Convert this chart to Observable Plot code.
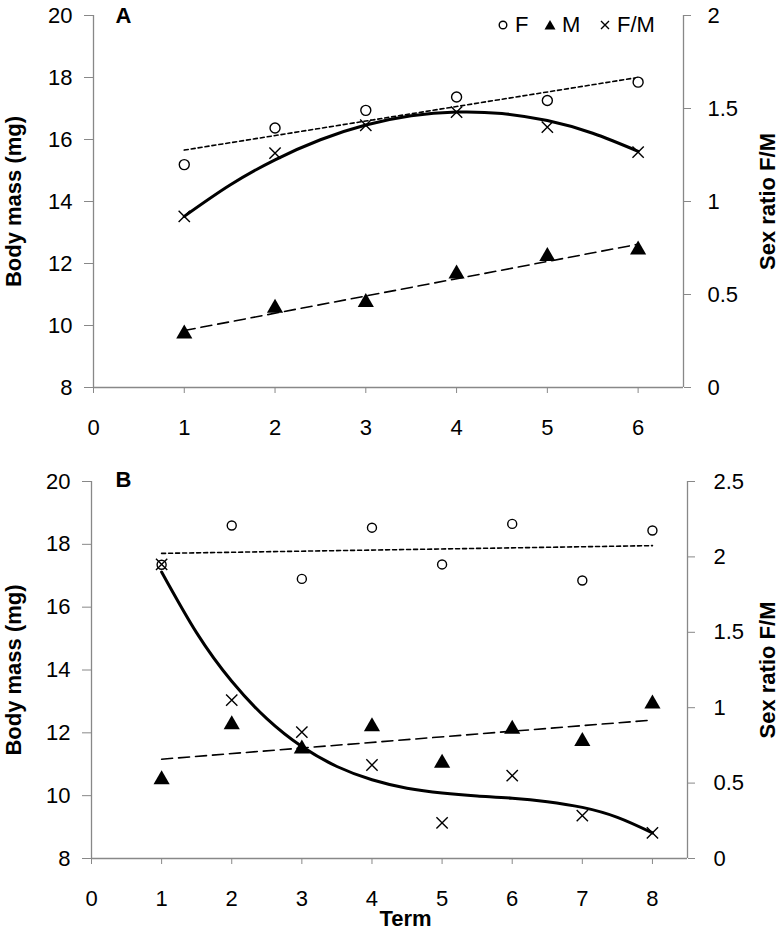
<!DOCTYPE html>
<html>
<head>
<meta charset="utf-8">
<script src="https://cdn.jsdelivr.net/npm/d3@7"></script>
<script src="https://cdn.jsdelivr.net/npm/@observablehq/plot@0.6"></script>
<style>
  body { margin: 0; background: #fff; font-family: "Liberation Sans", Arial, sans-serif; }
  #wrap { position: relative; width: 782px; height: 939px; }
  #wrap svg { display: block; }
  .lg { position: absolute; font-size: 22px; line-height: 22px; color: #000; white-space: nowrap; }
  .lgicon { position: absolute; }
</style>
</head>
<body>
<div id="wrap"></div>
<script>
// ---------- Data ----------
// Panel A
const termA = [1, 2, 3, 4, 5, 6];
const femaleA = [15.19, 16.37, 16.94, 17.37, 17.26, 17.85];
const maleA = [9.73, 10.56, 10.75, 11.67, 12.23, 12.44];
const ratioA = [0.92, 1.26, 1.41, 1.48, 1.40, 1.265];
const ratioTrendTermA = [1, 1.5, 2, 2.5, 3, 3.5, 4, 4.5, 5, 5.5, 6];
const ratioTrendA = [0.92, 1.087, 1.224, 1.332, 1.411, 1.461, 1.481, 1.473, 1.435, 1.367, 1.27];

// Panel B
const termB = [1, 2, 3, 4, 5, 6, 7, 8];
const femaleB = [17.35, 18.60, 16.90, 18.53, 17.36, 18.65, 16.85, 18.44];
const maleB = [10.51, 12.26, 11.49, 12.20, 11.04, 12.12, 11.73, 12.92];
const ratioB = [1.95, 1.05, 0.838, 0.62, 0.236, 0.549, 0.284, 0.17];
const ratioTrendTermB = [1, 1.5, 2, 2.5, 3, 3.5, 4, 4.5, 5, 5.5, 6, 6.5, 7, 7.5, 8];
const ratioTrendB = [1.90, 1.496, 1.175, 0.927, 0.742, 0.610, 0.522, 0.466, 0.434, 0.415, 0.40, 0.377, 0.339, 0.273, 0.17];

// Axis ticks
const massTicks = [8, 10, 12, 14, 16, 18, 20];
const ratioTicksA = [0, 0.5, 1, 1.5, 2];
const ratioTicksB = [0, 0.5, 1, 1.5, 2, 2.5];
const termTicksA = [0, 1, 2, 3, 4, 5, 6];
const termTicksB = [0, 1, 2, 3, 4, 5, 6, 7, 8];

const FONT = '"Liberation Sans", Arial, sans-serif';
const AX = "#888";
const TICKFS = 22;
const TITLEFS = 22;

function makePanel(cfg) {
  const k = 12 / cfg.rMax;                 // ratio -> mass-axis units
  const toMass = r => 8 + r * k;
  const F = cfg.terms.map((t, i) => ({term: t, value: cfg.female[i]}));
  const M = cfg.terms.map((t, i) => ({term: t, value: cfg.male[i]}));
  const R = cfg.terms.map((t, i) => ({term: t, value: cfg.ratio[i]}));
  const RT = cfg.trendX.map((t, i) => ({term: t, value: cfg.trendY[i]}));
  const marks = [
    Plot.ruleY([8], {stroke: AX, strokeWidth: 1.3}),
    Plot.ruleX([0], {stroke: AX, strokeWidth: 1.3}),
    Plot.ruleX([cfg.xMax], {stroke: AX, strokeWidth: 1.3}),
    Plot.axisY(massTicks, {anchor: "left", tickSize: 9, tickPadding: 12, stroke: AX, fill: "black", label: null, fontSize: TICKFS}),
    Plot.axisY(cfg.rTicks.map(toMass), {anchor: "right", tickSize: 7, tickPadding: cfg.rPad, stroke: AX, fill: "black", label: null, fontSize: TICKFS,
      tickFormat: v => String(Math.round(((v - 8) / k) * 100) / 100)}),
    Plot.axisX(cfg.xTicks, {anchor: "bottom", tickSize: 6, tickPadding: 26, stroke: AX, fill: "black", label: null, fontSize: TICKFS}),
    Plot.linearRegressionY(F, {x: "term", y: "value", stroke: "black", strokeWidth: 1.6, strokeDasharray: "4,3", ci: 0}),
    Plot.linearRegressionY(M, {x: "term", y: "value", stroke: "black", strokeWidth: 1.6, strokeDasharray: "11,6", ci: 0}),
    Plot.line(RT, {x: "term", y: d => toMass(d.value), curve: "natural", stroke: "black", strokeWidth: 3}),
    Plot.dot(F, {x: "term", y: "value", symbol: "circle", r: cfg.circleR, fill: "white", stroke: "black", strokeWidth: 1.4}),
    Plot.dot(M, {x: "term", y: "value", symbol: "triangle", r: 6, fill: "black", stroke: "none"}),
    Plot.dot(R, {x: "term", y: d => toMass(d.value), symbol: "times", r: 5.2, stroke: "black", strokeWidth: 1.4}),
    Plot.text(["Body mass (mg)"], {frameAnchor: "left", textAnchor: "middle", rotate: -90, dx: cfg.leftLabelDx, fontWeight: "bold", fontSize: TITLEFS}),
    Plot.text(["Sex ratio F/M"], {frameAnchor: "right", textAnchor: "middle", rotate: -90, dx: cfg.rightLabelDx, fontWeight: "bold", fontSize: TITLEFS}),
    Plot.text([cfg.letter], {frameAnchor: "top-left", dx: cfg.letterDx, dy: cfg.letterDy, fontWeight: "bold", fontSize: 22})
  ];
  if (cfg.xLabel) {
    marks.push(Plot.text([cfg.xLabel], {frameAnchor: "bottom", dx: 16, dy: 67, fontWeight: "bold", fontSize: TITLEFS}));
  }
  return Plot.plot({
    width: 782,
    height: cfg.height,
    marginTop: cfg.mt, marginBottom: cfg.mb, marginLeft: cfg.ml, marginRight: cfg.mr,
    style: {fontFamily: FONT, fontSize: "22px", color: "black", background: "white"},
    x: {domain: [0, cfg.xMax], axis: null},
    y: {domain: [8, 20], axis: null},
    marks
  });
}

const wrap = document.getElementById("wrap");
wrap.appendChild(makePanel({
  terms: termA, female: femaleA, male: maleA, ratio: ratioA,
  trendX: ratioTrendTermA, trendY: ratioTrendA,
  xMax: 6.5, rMax: 2, rTicks: ratioTicksA, xTicks: termTicksA,
  height: 462, mt: 15, mb: 75, ml: 93, mr: 99, rPad: 17,
  circleR: 5, letter: "A", letterDx: 22, letterDy: -8,
  leftLabelDx: -80, rightLabelDx: 84
}));
wrap.appendChild(makePanel({
  terms: termB, female: femaleB, male: maleB, ratio: ratioB,
  trendX: ratioTrendTermB, trendY: ratioTrendB,
  xMax: 8.5, rMax: 2.5, rTicks: ratioTicksB, xTicks: termTicksB,
  height: 477, mt: 19, mb: 81, ml: 91, mr: 95, rPad: 19,
  circleR: 4.5, letter: "B", letterDx: 24, letterDy: -10,
  leftLabelDx: -78, rightLabelDx: 80, xLabel: "Term"
}));

// Legend (panel A, top right)
function icon(svgInner, left, top) {
  const d = document.createElement("div");
  d.className = "lgicon";
  d.style.left = left + "px"; d.style.top = top + "px";
  d.innerHTML = `<svg width="14" height="14" viewBox="-7 -7 14 14">${svgInner}</svg>`;
  wrap.appendChild(d);
}
function label(text, left, top) {
  const d = document.createElement("div");
  d.className = "lg";
  d.style.left = left + "px"; d.style.top = top + "px";
  d.textContent = text;
  wrap.appendChild(d);
}
icon('<circle r="3.8" fill="white" stroke="black" stroke-width="1.4"/>', 496, 18);
label("F", 515, 14);
icon('<path d="M0,-5 L5.5,4.5 L-5.5,4.5 Z" fill="black"/>', 543, 18);
label("M", 562, 14);
icon('<path d="M-4,-4 L4,4 M-4,4 L4,-4" stroke="black" stroke-width="1.4"/>', 598, 18);
label("F/M", 617, 14);
</script>
</body>
</html>
